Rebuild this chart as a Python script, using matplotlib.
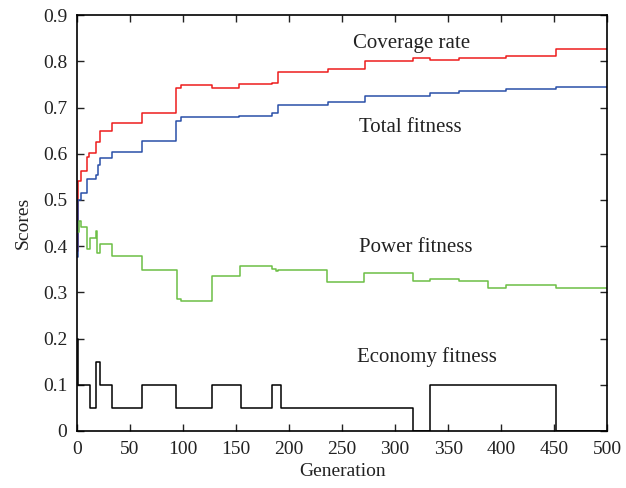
import matplotlib
matplotlib.use('Agg')
import matplotlib.pyplot as plt

# Точки смены значений (поколение) и значения кривых
gen_cov = [0, 1, 4, 9, 11, 18, 22, 33, 61, 93, 98, 127, 153, 184, 190, 237, 272, 317, 333, 360, 405, 452, 500]
coverage = [0.39, 0.54, 0.562, 0.593, 0.601, 0.626, 0.65, 0.667, 0.688, 0.743, 0.748, 0.742, 0.751,
            0.753, 0.776, 0.784, 0.801, 0.808, 0.802, 0.808, 0.8125, 0.827, 0.827]

gen_tot = [0, 1, 4, 9, 18, 20, 22, 33, 61, 93, 98, 153, 184, 190, 237, 272, 333, 360, 405, 452, 500]
total = [0.376, 0.5, 0.514, 0.546, 0.555, 0.575, 0.591, 0.604, 0.628, 0.67, 0.679, 0.681, 0.688,
         0.705, 0.713, 0.726, 0.731, 0.736, 0.741, 0.744, 0.744]

gen_pow = [0, 2, 4, 9, 12, 18, 19, 22, 33, 61, 94, 98, 127, 154, 184, 188, 190, 236, 271, 317,
           333, 360, 388, 405, 452, 500]
power = [0.43, 0.455, 0.442, 0.394, 0.418, 0.433, 0.386, 0.404, 0.379, 0.349, 0.286, 0.282, 0.336,
         0.358, 0.351, 0.347, 0.349, 0.322, 0.341, 0.325, 0.328, 0.325, 0.309, 0.315, 0.309, 0.309]

gen_eco = [0, 1, 12, 18, 22, 33, 61, 93, 127, 155, 184, 192, 317, 333, 452, 500]
economy = [0.2, 0.1, 0.05, 0.15, 0.1, 0.05, 0.1, 0.05, 0.1, 0.05, 0.1, 0.05, 0, 0.1, 0, 0]

x_ticks = [0, 50, 100, 150, 200, 250, 300, 350, 400, 450, 500]
y_ticks = [0, 0.1, 0.2, 0.3, 0.4, 0.5, 0.6, 0.7, 0.8, 0.9]
y_labels = ['0', '0.1', '0.2', '0.3', '0.4', '0.5', '0.6', '0.7', '0.8', '0.9']

plt.rcParams['font.family'] = ['Liberation Serif', 'DejaVu Serif']
plt.rcParams['font.size'] = 14

fig = plt.figure(figsize=(6.26, 4.88), dpi=100)
ax = fig.add_axes([0.123, 0.117, 0.847, 0.852])

ax.step(gen_cov, coverage, where='post', color='#ee1c1c', lw=1.1)
ax.step(gen_tot, total, where='post', color='#2a4fa8', lw=1.1)
ax.step(gen_pow, power, where='post', color='#6cbf45', lw=1.1)
ax.step(gen_eco, economy, where='post', color='black', lw=1.1)

# Подписи кривых
txt = dict(ha='left', va='center', color='#222222', fontsize=15)
ax.text(260, 0.838, 'Coverage rate', **txt)
ax.text(266, 0.657, 'Total fitness', **txt)
ax.text(266, 0.397, 'Power fitness', **txt)
ax.text(264, 0.160, 'Economy fitness', **txt)

ax.set_xlim(0, 500)
ax.set_ylim(0, 0.9)
ax.set_xticks(x_ticks)
ax.set_yticks(y_ticks)
ax.set_yticklabels(y_labels)
ax.tick_params(direction='in', top=True, right=True, length=5, width=1, colors='#222222', pad=7)
for s in ax.spines.values():
    s.set_linewidth(1.2)
ax.set_xlabel('Generation', color='#222222', labelpad=4)
ax.set_ylabel('Scores', color='#222222', labelpad=8)

fig.savefig('out.png', dpi=100)
